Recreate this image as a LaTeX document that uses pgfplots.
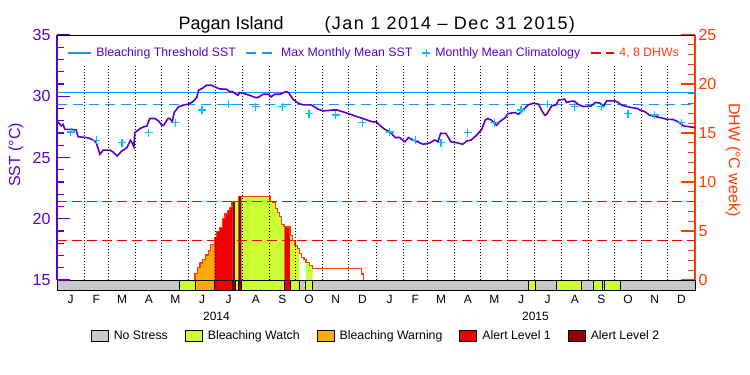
\documentclass[border=0pt]{standalone}
\usepackage{fontspec}
\setmainfont{Liberation Sans}
\usepackage{pgfplots}
\pgfplotsset{compat=1.18}
\definecolor{sstpurple}{RGB}{90,0,200}
\definecolor{thrblue}{RGB}{30,144,255}
\definecolor{climcyan}{RGB}{0,191,255}
\definecolor{dhwred}{RGB}{240,0,0}
\definecolor{dhwaxis}{RGB}{255,60,0}
\definecolor{cNo}{RGB}{200,200,200}
\definecolor{cWatch}{RGB}{204,255,51}
\definecolor{cWarn}{RGB}{250,170,10}
\definecolor{cAone}{RGB}{240,0,0}
\definecolor{cAtwo}{RGB}{150,0,0}
\newcommand{\barlo}{-1.0204}
\pgfplotsset{
  boxlegend/.style={legend image code/.code={\draw[##1] (0bp,-5.5bp) rectangle (17bp,5.5bp);}},
  linelegend/.style={legend image code/.code={\draw[##1] (0bp,0bp) -- (#1,0bp);}},
  marklegend/.style={legend image code/.code={\draw[##1, only marks] plot coordinates {(5bp,0bp)};}},
}
\begin{document}
\begin{tikzpicture}
% ---------------- DHW axis (right) ----------------
\begin{axis}[
  scale only axis, width=638bp, height=255bp,
  xmin=0, xmax=730, ymin=-1.0204, ymax=25,
  axis x line=none, axis y line*=right,
  y axis line style={dhwaxis, line width=1.2bp, shorten <=10bp},
  ytick={0,5,10,15,20,25}, minor ytick={1,2,3,4,6,7,8,9,11,12,13,14,16,17,18,19,21,22,23,24},
  ytick style={dhwaxis, line width=1.2bp},
  tick align=inside, major tick length=14bp, minor tick length=7bp,
  /pgf/number format/assume math mode=true,
  yticklabel style={text=dhwaxis, font=\fontsize{16bp}{18bp}\selectfont},
  ylabel={DHW (°C week)},
  ylabel style={text=dhwaxis, font=\fontsize{16bp}{18bp}\selectfont, at={(axis description cs:1.0596,0.51)}, anchor=center, rotate=180},
  clip=false,
  legend columns=5,
  legend style={at={(0.5,0)}, anchor=center, yshift=-45.5bp, draw=none, fill=none, inner sep=0pt,
    font=\fontsize{12.3bp}{14bp}\selectfont, text=black,
    /tikz/every odd column/.append style={column sep=3bp},
    /tikz/every even column/.append style={column sep=15bp}},
]
% DHW fill, coloured by alert status
\addplot[const plot, fill=cWarn, draw=none, forget plot] coordinates {(157.9,0.68)(160.9,1.29)(163.6,1.73)(166.3,2.13)(169.8,2.55)(173.2,2.98)(175.8,3.59)(180,3.59)} \closedcycle;
\addplot[const plot, fill=cAone, draw=none, forget plot] coordinates {(180,4.35)(182.7,4.93)(185.7,5.37)(189.2,6.29)(192.2,6.8)(194.9,7.1)(197.2,7.41)(199.8,7.99)(200.6,7.99)} \closedcycle;
\addplot[const plot, fill=cAtwo, draw=none, forget plot] coordinates {(200.6,7.99)(203.7,7.99)} \closedcycle;
\addplot[const plot, fill=cWatch, draw=none, forget plot] coordinates {(203.7,7.99)(207.5,7.99)} \closedcycle;
\addplot[const plot, fill=cAtwo, draw=none, forget plot] coordinates {(207.5,8.54)(211.2,8.54)} \closedcycle;
\addplot[const plot, fill=cWatch, draw=none, forget plot] coordinates {(211.2,8.54)(243.7,7.99)(247,7.9)(250,7.29)(252.5,6.9)(254.5,6.47)(257,5.69)(259.7,5.46)(260.1,5.46)} \closedcycle;
\addplot[const plot, fill=cAone, draw=none, forget plot] coordinates {(260.1,5.46)(262.5,5.40)(266.6,5.40)} \closedcycle;
\addplot[const plot, fill=cWatch, draw=none, forget plot] coordinates {(266.6,4.57)(269.3,4.06)(272.3,3.49)(275,3.2)(277.3,3.2)} \closedcycle;
\addplot[const plot, fill=cWatch, draw=none, forget plot] coordinates {(284.9,1.8)(288.7,1.52)(292.1,1.19)(292.5,1.19)} \closedcycle;
% DHW outline
\addplot[const plot, dhwaxis, line width=1.2bp, forget plot] coordinates {(157.9,0)(157.9,0.68)(160.9,1.29)(163.6,1.73)(166.3,2.13)(169.8,2.55)(173.2,2.98)(175.8,3.59)(180,4.35)(182.7,4.93)(185.7,5.37)(189.2,6.29)(192.2,6.8)(194.9,7.1)(197.2,7.41)(199.8,7.99)(207.5,8.54)(243.7,7.99)(247,7.9)(250,7.29)(252.5,6.9)(254.5,6.47)(257,5.69)(259.7,5.46)(262.5,5.40)(266.6,4.57)(269.3,4.06)(272.3,3.49)(275,3.2)(277.3,2.71)(279.9,2.3)(282.6,2.1)(284.9,1.8)(288.7,1.52)(292.1,1.19)(348.6,0.61)(350.5,0)};
% month boundaries (dotted)
\addplot[ycomb, black, line width=1bp, dash pattern=on 1bp off 2bp, forget plot] coordinates {(31,21.94)(59,21.94)(90,21.94)(120,21.94)(151,21.94)(181,21.94)(212,21.94)(243,21.94)(273,21.94)(304,21.94)(334,21.94)(365,21.94)(396,21.94)(424,21.94)(455,21.94)(485,21.94)(516,21.94)(546,21.94)(577,21.94)(608,21.94)(638,21.94)(669,21.94)(699,21.94)};
% 4 and 8 DHW lines
\addplot[dhwred, line width=1.2bp, dash pattern=on 10bp off 5bp, forget plot] coordinates {(0,4)(730,4)};
\addplot[dhwred, line width=1.2bp, dash pattern=on 10bp off 5bp, forget plot] coordinates {(0,8)(730,8)};
% status bar
\addplot[fill=cNo, draw=black, line width=1bp, forget plot] coordinates {(0,\barlo)(140.7,\barlo)} \closedcycle;
\addplot[fill=cWatch, draw=black, line width=1bp, forget plot] coordinates {(140.7,\barlo)(157.9,\barlo)} \closedcycle;
\addplot[fill=cWarn, draw=black, line width=1bp, forget plot] coordinates {(157.9,\barlo)(180,\barlo)} \closedcycle;
\addplot[fill=cAone, draw=black, line width=1bp, forget plot] coordinates {(180,\barlo)(200.6,\barlo)} \closedcycle;
\addplot[fill=cAtwo, draw=black, line width=1bp, forget plot] coordinates {(200.6,\barlo)(203.7,\barlo)} \closedcycle;
\addplot[fill=cWatch, draw=black, line width=1bp, forget plot] coordinates {(203.7,\barlo)(207.5,\barlo)} \closedcycle;
\addplot[fill=cAtwo, draw=black, line width=1bp, forget plot] coordinates {(207.5,\barlo)(211.2,\barlo)} \closedcycle;
\addplot[fill=cWatch, draw=black, line width=1bp, forget plot] coordinates {(211.2,\barlo)(260.1,\barlo)} \closedcycle;
\addplot[fill=cAone, draw=black, line width=1bp, forget plot] coordinates {(260.1,\barlo)(266.6,\barlo)} \closedcycle;
\addplot[fill=cWatch, draw=black, line width=1bp, forget plot] coordinates {(266.6,\barlo)(277.3,\barlo)} \closedcycle;
\addplot[fill=cNo, draw=black, line width=1bp, forget plot] coordinates {(277.3,\barlo)(284.9,\barlo)} \closedcycle;
\addplot[fill=cWatch, draw=black, line width=1bp, forget plot] coordinates {(284.9,\barlo)(292.5,\barlo)} \closedcycle;
\addplot[fill=cNo, draw=black, line width=1bp, forget plot] coordinates {(292.5,\barlo)(539.3,\barlo)} \closedcycle;
\addplot[fill=cWatch, draw=black, line width=1bp, forget plot] coordinates {(539.3,\barlo)(547.7,\barlo)} \closedcycle;
\addplot[fill=cNo, draw=black, line width=1bp, forget plot] coordinates {(547.7,\barlo)(571.7,\barlo)} \closedcycle;
\addplot[fill=cWatch, draw=black, line width=1bp, forget plot] coordinates {(571.7,\barlo)(600.3,\barlo)} \closedcycle;
\addplot[fill=cNo, draw=black, line width=1bp, forget plot] coordinates {(600.3,\barlo)(613.6,\barlo)} \closedcycle;
\addplot[fill=cWatch, draw=black, line width=1bp, forget plot] coordinates {(613.6,\barlo)(623.9,\barlo)} \closedcycle;
\addplot[fill=cNo, draw=black, line width=1bp, forget plot] coordinates {(623.9,\barlo)(627,\barlo)} \closedcycle;
\addplot[fill=cWatch, draw=black, line width=1bp, forget plot] coordinates {(627,\barlo)(645,\barlo)} \closedcycle;
\addplot[fill=cNo, draw=black, line width=1bp, forget plot] coordinates {(645,\barlo)(730,\barlo)} \closedcycle;
% status legend
\addlegendimage{boxlegend, fill=cNo, draw=black, line width=1bp}
\addlegendentry{No Stress}
\addlegendimage{boxlegend, fill=cWatch, draw=black, line width=1bp}
\addlegendentry{Bleaching Watch}
\addlegendimage{boxlegend, fill=cWarn, draw=black, line width=1bp}
\addlegendentry{Bleaching Warning}
\addlegendimage{boxlegend, fill=cAone, draw=black, line width=1bp}
\addlegendentry{Alert Level 1}
\addlegendimage{boxlegend, fill=cAtwo, draw=black, line width=1bp}
\addlegendentry{Alert Level 2}
\end{axis}
% ---------------- SST axis (left) ----------------
\begin{axis}[
  scale only axis, width=638bp, height=255bp,
  xmin=0, xmax=730, ymin=14.1837, ymax=35,
  axis x line*=bottom, axis y line*=left,
  x axis line style={draw=none},
  y axis line style={sstpurple, line width=1.2bp, shorten <=10bp},
  xtick={15.5,45,74.5,105,135.5,166,196.5,227.5,258,288.5,319,349.5,380.5,410,439.5,470,500.5,531,561.5,592.5,623,653.5,684,714.5},
  xticklabels={J,F,M,A,M,J,J,A,S,O,N,D,J,F,M,A,M,J,J,A,S,O,N,D},
  xtick style={draw=none},
  xticklabel style={text=black, font=\fontsize{12bp}{14bp}\selectfont, yshift=-2bp},
  extra x ticks={182.5,547.5}, extra x tick labels={2014,2015},
  extra x tick style={major tick length=0pt, tick style={draw=none}, tick label style={yshift=-17bp}},
  ytick={15,20,25,30,35}, minor ytick={16,17,18,19,21,22,23,24,26,27,28,29,31,32,33,34},
  ytick style={sstpurple, line width=1.2bp},
  tick align=inside, major tick length=13bp, minor tick length=7bp,
  /pgf/number format/assume math mode=true,
  yticklabel style={text=sstpurple, font=\fontsize{16bp}{18bp}\selectfont, xshift=-3bp},
  ylabel={SST (°C)},
  ylabel style={text=sstpurple, font=\fontsize{16bp}{18bp}\selectfont, at={(axis description cs:-0.0643,0.53)}, anchor=center},
  clip=false,
  legend columns=4,
  legend style={at={(0,1)}, anchor=west, xshift=10bp, yshift=-18bp, draw=none, fill=none, inner sep=0pt,
    font=\fontsize{12.3bp}{14bp}\selectfont, text=sstpurple,
    /tikz/every odd column/.append style={column sep=3bp},
    /tikz/every even column/.append style={column sep=8bp}},
]
\addplot[thrblue, line width=1.2bp, forget plot] coordinates {(0,30.33)(730,30.33)};
\addplot[thrblue, line width=1.2bp, dash pattern=on 10bp off 6bp, forget plot] coordinates {(0,29.33)(730,29.33)};
\addplot[only marks, mark=+, mark size=4bp, climcyan, line width=1.3bp, forget plot] coordinates {
(15.5,27.09)(45,26.41)(74.5,26.22)(105,27.03)(135.5,27.85)(166,28.88)(196.5,29.33)(227.5,29.16)(258,29.16)(288.5,28.59)(319,28.47)(349.5,27.85)
(380.5,27.09)(410,26.41)(439.5,26.22)(470,27.03)(500.5,27.85)(531,28.88)(561.5,29.33)(592.5,29.16)(623,29.16)(653.5,28.59)(684,28.47)(714.5,27.85)};
\addplot[sstpurple, line width=1.6bp, forget plot] coordinates {
(0,27.98)(5,27.58)(7,27.7)(9,27.3)(16,27.3)(22,27.25)(24,26.7)(36,26.6)(42,26.4)(45,26.2)(49,25.27)(53,25.6)(61,25.6)(64,25.45)(69,25.13)(74,25.53)(80,25.8)(84,26.4)(86,26.2)(88,25.86)(89,27.03)(95,27.36)(99,27.5)(103,27.58)(106,28.18)(112,28.18)(116,28.0)(120,27.63)(122,27.63)(127,28.18)(129,28.18)(132,27.93)(134,28.67)(139,29.13)(145,29.29)(150,29.35)(155,29.53)(160,29.9)(162,30.5)(166,30.63)(171,30.9)(177,30.9)(181,30.75)(186,30.6)(194,30.57)(198,30.35)(200,30.4)(207,30.08)(209,30.3)(217,30.16)(227,29.9)(230,29.9)(236,30.16)(242,30.16)(245,29.95)(249,30.16)(255,30.16)(262,30.38)(265,30.3)(270,29.76)(276,29.43)(282,29.29)(291,29.29)(299,28.94)(305,28.8)(316,28.88)(320,28.88)(330,28.67)(341,28.39)(350,28.18)(358,27.98)(362,27.9)(365,27.93)(370,27.58)(375,27.3)(381,27.09)(387,26.63)(392,26.63)(398,26.27)(402,26.63)(408,26.4)(413,26.27)(419,26.08)(427,26.2)(432,26.43)(436,26.3)(439,26.98)(445,26.96)(451,26.27)(458,26.2)(464,26.08)(469,26.35)(474,26.43)(480,26.82)(486,27.3)(490,28.06)(493,28.18)(497,28.06)(503,27.63)(506,27.9)(513,28.26)(516,28.59)(524,28.67)(528,28.53)(534,28.94)(539,29.29)(545,29.43)(551,29.35)(555,28.8)(558,28.45)(560,28.5)(566,29.21)(571,29.3)(574,29.7)(581,29.76)(583,29.49)(589,29.6)(592,29.6)(596,29.35)(602,29.16)(611,29.2)(616,29.49)(621,29.45)(625,29.16)(629,29.62)(638,29.62)(642,29.5)(646,29.27)(657,29.08)(664,29.0)(667,28.88)(673,28.72)(678,28.45)(690,28.26)(698,28.12)(705,28.1)(711,27.9)(717,27.58)(730,27.44)};
\addlegendimage{linelegend=23bp, thrblue, line width=1.2bp}
\addlegendentry{Bleaching Threshold SST}
\addlegendimage{linelegend=29bp, thrblue, line width=1.2bp, dash pattern=on 10bp off 6bp}
\addlegendentry{Max Monthly Mean SST}
\addlegendimage{marklegend, climcyan, line width=1.3bp, mark=+, mark size=4bp}
\addlegendentry{Monthly Mean Climatology}
\addlegendimage{linelegend=23bp, dhwred, line width=1.2bp, dash pattern=on 10bp off 5bp}
\addlegendentry{\textcolor{dhwaxis}{4, 8 DHWs}}
\draw[black, line width=1bp] (rel axis cs:0,1) -- (rel axis cs:1,1);
\end{axis}
\node[anchor=base west, font=\fontsize{18bp}{20bp}\selectfont] at (118bp,260bp) {Pagan Island};
\node[anchor=base west, font=\fontsize{18bp}{20bp}\selectfont\addfontfeature{LetterSpace=8}] at (264bp,260bp) {(Jan 1 2014 – Dec 31 2015)};
\pgfresetboundingbox
\path[use as bounding box] (-57bp,-85bp) rectangle (693bp,290bp);
\end{tikzpicture}
\end{document}
